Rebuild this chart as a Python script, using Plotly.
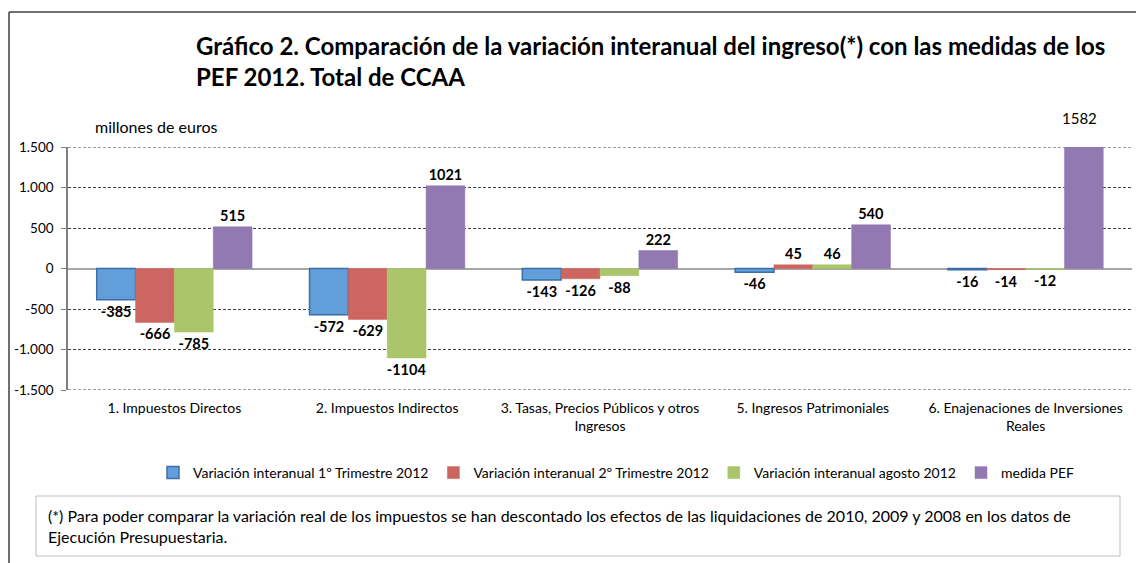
import plotly.graph_objects as go

categories = [
    "1. Impuestos Directos",
    "2. Impuestos Indirectos",
    "3. Tasas, Precios Públicos y otros<br>Ingresos",
    "5. Ingresos Patrimoniales",
    "6. Enajenaciones de Inversiones<br>Reales",
]
series_names = [
    "Variación interanual 1º Trimestre 2012",
    "Variación interanual 2º Trimestre 2012",
    "Variación interanual agosto 2012",
    "medida PEF",
]
trim1 = [-385, -572, -143, -46, -16]
trim2 = [-666, -629, -126, 45, -14]
agosto = [-785, -1104, -88, 46, -12]
pef = [515, 1021, 222, 540, 1582]
tick_vals = [1500, 1000, 500, 0, -500, -1000, -1500]
tick_text = ["1.500", "1.000", "500", "0", "-500", "-1.000", "-1.500"]

colors = ["#629FDA", "#CD6660", "#AAC56A", "#9279B1"]
borders = ["#3D6DA6", "#CD6660", "#AAC56A", "#9279B1"]

FONT = "Lato"
W, H = 1144, 563
OFF = 8  # page body margin
# plot area in page pixels
L, R, T, B = 68, 1132, 147, 390

def px(x):
    return (x - L) / (R - L)

def py(y):
    return (B - y) / (B - T)

YMIN, YMAX = -1500, 1500
fig = go.Figure()
all_series = [trim1, trim2, agosto, pef]
for i, (name, vals) in enumerate(zip(series_names, all_series)):
    texts = []
    for v in vals:
        if v > YMAX:
            texts.append("")
        else:
            texts.append(f"<b>{v}</b>")
    fig.add_trace(go.Bar(
        x=categories, y=vals, name=name,
        marker=dict(color=colors[i], line=dict(color=borders[i], width=1.5 if i == 0 else 0.5)),
        text=texts, textposition="outside", constraintext="none",
        textfont=dict(family=FONT, size=14.5, color="black"),
        cliponaxis=True,
    ))

# value above the clipped bar
for ci, v in enumerate(pef):
    if v > YMAX:
        fig.add_annotation(x=categories[ci], y=py(118), xref="x", yref="paper",
                           xanchor="center", yanchor="middle",
                           xshift=54, text=str(v), showarrow=False,
                           font=dict(family=FONT, size=15, color="black"))

fig.update_layout(
    width=W, height=H,
    margin=dict(l=L - OFF, r=W - (R - OFF), t=T - OFF, b=H - (B - OFF), autoexpand=False),
    paper_bgcolor="white", plot_bgcolor="white",
    barmode="group", bargap=0.27, bargroupgap=0,
    font=dict(family=FONT, size=13, color="black"),
    showlegend=True,
    legend=dict(orientation="h", x=px(153), y=py(473), xanchor="left", yanchor="middle",
                font=dict(family=FONT, size=14, color="black"),
                itemwidth=30, tracegroupgap=0),
    xaxis=dict(showgrid=False, showline=False, ticks="", tickfont=dict(size=14),
               ticklabelstandoff=8, fixedrange=True, automargin=False),
    yaxis=dict(range=[YMIN, YMAX], tickvals=tick_vals, ticktext=tick_text,
               showgrid=True, gridcolor="#404040", griddash="3px,2px", gridwidth=1,
               zeroline=True, zerolinecolor="#A6A6A6", zerolinewidth=1.5,
               showline=True, linecolor="#7F7F7F", linewidth=1.5,
               ticks="outside", ticklen=5, tickcolor="#7F7F7F",
               ticklabelstandoff=5, tickfont=dict(size=13.5), automargin=False),
)

# gridlines at the range edges (plotly omits them)
for yv in (YMIN, YMAX):
    fig.add_shape(type="line", xref="paper", yref="y", x0=0, x1=1, y0=yv, y1=yv,
                  line=dict(color="#404040", width=1, dash="3px,2px"), layer="below")

# title
fig.add_annotation(
    x=px(194), y=py(61), xref="paper", yref="paper", xanchor="left", yanchor="middle",
    align="left", showarrow=False,
    text="<b>Gráfico 2. Comparación de la variación interanual del ingreso(*) con las medidas de los<br>PEF 2012. Total de CCAA</b>",
    font=dict(family=FONT, size=24, color="black"),
)
# unit label
fig.add_annotation(
    x=px(93), y=py(126), xref="paper", yref="paper", xanchor="left", yanchor="middle",
    showarrow=False, text="millones de euros",
    font=dict(family=FONT, size=16, color="black"),
)
# outer frame
fig.add_shape(type="line", xref="paper", yref="paper", x0=px(9), x1=px(1160), y0=py(12), y1=py(12),
              line=dict(color="#404040", width=1.5))
fig.add_shape(type="line", xref="paper", yref="paper", x0=px(9), x1=px(9), y0=py(12), y1=py(580),
              line=dict(color="#404040", width=1.5))
# footnote box
fig.add_shape(type="rect", xref="paper", yref="paper", x0=px(36), x1=px(1120), y0=py(496), y1=py(556),
              line=dict(color="#BFBFBF", width=1), fillcolor="white")
fig.add_annotation(
    x=px(46), y=py(526), xref="paper", yref="paper", xanchor="left", yanchor="middle",
    align="left", showarrow=False,
    text="(*) Para poder comparar la variación real de los impuestos se han descontado los efectos de las liquidaciones de 2010, 2009 y 2008 en los datos de<br>Ejecución Presupuestaria.",
    font=dict(family=FONT, size=16, color="black"),
)

fig.write_html("out.html")
